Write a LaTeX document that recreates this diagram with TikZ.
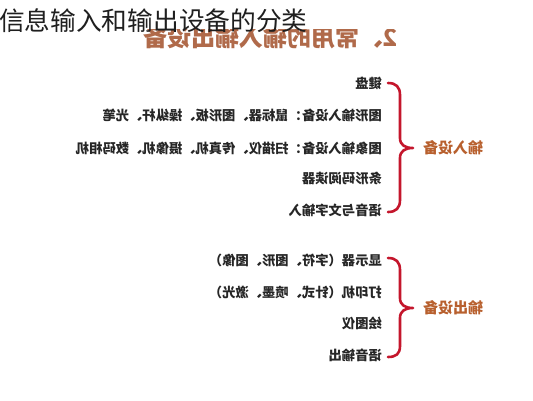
\documentclass[tikz,border=0pt]{standalone}
\usepackage{fontspec}
\newfontfamily\cjk{Noto Sans CJK SC}
\definecolor{itemc}{HTML}{262626}
\definecolor{labc}{HTML}{B8602E}
\definecolor{subc}{HTML}{B06A4A}
\definecolor{bracec}{HTML}{C4162C}
\begin{document}
\begin{tikzpicture}[x=1pt,y=-1pt,
  item/.style={anchor=base east, inner sep=0pt, text=itemc,
    font=\cjk\bfseries\fontsize{13.3}{13.3}\selectfont},
  grouplabel/.style={anchor=base west, inner sep=0pt, text=labc,
    font=\cjk\bfseries\fontsize{15}{15}\selectfont},
  bracepath/.style={draw=bracec, line width=2.6pt, line cap=round, line join=round}]
\useasboundingbox (0,0) rectangle (533,400);
\fill[white] (0,0) rectangle (533,400);
% subtitle (mirrored, clipped at top)
\begin{scope}
\clip (0,29) rectangle (533,60);
\node[anchor=base east, inner sep=0pt, text=subc, font=\cjk\bfseries\fontsize{24}{24}\selectfont] (sub) at (398,46) {\reflectbox{2、常用的输入输出设备}};
\end{scope}
% main title
\node[anchor=base west, inner sep=0pt, text=black!88, font=\cjk\fontsize{25.7}{25.7}\selectfont] (title) at (-1,30) {信息输入和输出设备的分类};
% input items
\node[item] (i1) at (382,88) {\reflectbox{键盘}};
\node[item] (i2) at (382,120) {\reflectbox{图形输入设备：鼠标器、图形板、操纵杆、光笔}};
\node[item] (i3) at (382,153) {\reflectbox{图象输入设备：扫描仪、传真机、摄像机、数码相机}};
\node[item] (i4) at (382,183) {\reflectbox{条形码阅读器}};
\node[item] (i5) at (382,215) {\reflectbox{语音与文字输入}};
% output items
\node[item] (o1) at (382,265) {\reflectbox{显示器（字符、图形、图像）}};
\node[item] (o2) at (382,297) {\reflectbox{打印机（针式、喷墨、激光）}};
\node[item] (o3) at (382,328) {\reflectbox{绘图仪}};
\node[item] (o4) at (382,360) {\reflectbox{语音输出}};
% group labels
\node[grouplabel] (gin) at (423,153.5) {\reflectbox{输入设备}};
\node[grouplabel] (gout) at (423,313.5) {\reflectbox{输出设备}};
% braces
\draw[bracepath] (388,83) .. controls (396,83) and (400,87) .. (400,95) -- (400,138)
  .. controls (400,145) and (405,148) .. (413,148)
  .. controls (405,148) and (400,151) .. (400,158) -- (400,200)
  .. controls (400,208) and (396,212) .. (388,212);
\draw[bracepath] (388,258) .. controls (396,258) and (400,262) .. (400,270) -- (400,298)
  .. controls (400,305) and (405,308) .. (413,308)
  .. controls (405,308) and (400,311) .. (400,318) -- (400,346)
  .. controls (400,354) and (396,357) .. (388,357);
\end{tikzpicture}
\end{document}
